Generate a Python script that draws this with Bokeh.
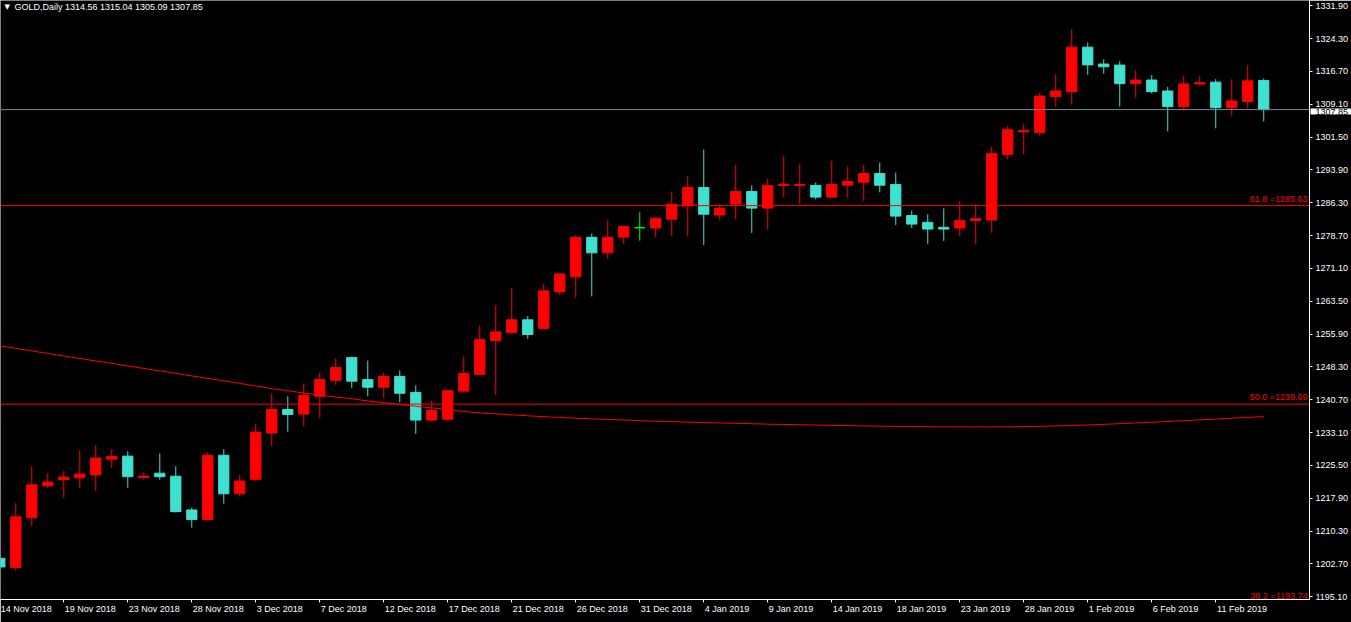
from bokeh.plotting import figure
from bokeh.models import (Range1d, FixedTicker, LinearAxis, Label, ColumnDataSource,
                          PrintfTickFormatter, NoOverlap)
from bokeh.embed import file_html
from bokeh.resources import INLINE

symbol = "GOLD,Daily"

opens = [1204.0, 1201.9, 1213.4, 1220.8, 1222.2, 1222.65, 1223.3, 1226.95, 1227.65, 1222.7,
         1223.7, 1223.0, 1215.2, 1213.0, 1227.85, 1218.95, 1222.3, 1233.0, 1238.45, 1237.4,
         1241.5, 1245.2, 1250.45, 1245.35, 1243.6, 1246.1, 1242.4, 1236.0, 1236.2, 1242.7,
         1246.6, 1254.4, 1256.3, 1259.2, 1257.2, 1265.65, 1269.15, 1278.3, 1274.7, 1278.35,
         1280.5, 1280.45, 1282.5, 1285.6, 1289.8, 1283.45, 1286.0, 1288.9, 1285.05, 1290.3,
         1290.3, 1290.3, 1287.6, 1290.35, 1291.05, 1293.05, 1290.5, 1283.35, 1281.75, 1280.6,
         1280.45, 1282.2, 1282.3, 1297.5, 1302.7, 1302.55, 1310.85, 1312.0, 1322.3, 1318.4,
         1318.15, 1313.85, 1314.7, 1312.15, 1308.55, 1313.8, 1314.2, 1308.3, 1309.7, 1314.56]
highs = [1204.5, 1216.8, 1225.3, 1223.7, 1224.2, 1229.0, 1230.2, 1229.25, 1228.8, 1223.95,
         1228.3, 1225.3, 1215.7, 1228.55, 1229.25, 1223.3, 1235.2, 1242.2, 1241.5, 1244.5,
         1247.0, 1250.2, 1250.7, 1249.75, 1247.0, 1247.5, 1244.0, 1240.5, 1243.0, 1250.7,
         1257.8, 1262.6, 1266.6, 1260.1, 1267.5, 1270.0, 1278.75, 1279.2, 1282.2, 1281.1,
         1284.1, 1282.9, 1288.9, 1292.4, 1298.6, 1286.1, 1295.1, 1290.3, 1291.9, 1297.2,
         1295.35, 1291.0, 1296.0, 1294.7, 1295.1, 1295.6, 1293.3, 1284.5, 1283.6, 1285.0,
         1286.6, 1285.9, 1299.3, 1304.1, 1304.55, 1311.7, 1316.1, 1326.4, 1323.4, 1319.5,
         1319.05, 1317.0, 1315.85, 1313.1, 1315.6, 1315.6, 1314.9, 1314.9, 1318.15, 1315.04]
lows = [1201.5, 1201.2, 1211.4, 1220.3, 1218.0, 1220.3, 1219.6, 1224.9, 1220.3, 1222.2,
        1222.2, 1214.6, 1211.1, 1212.75, 1216.65, 1218.3, 1221.9, 1230.0, 1233.3, 1234.6,
        1236.5, 1244.1, 1243.4, 1241.5, 1241.1, 1240.1, 1232.8, 1235.75, 1235.8, 1242.2,
        1246.3, 1241.9, 1255.8, 1254.8, 1257.0, 1264.95, 1264.3, 1264.6, 1273.3, 1276.75,
        1277.5, 1278.2, 1278.6, 1278.6, 1276.5, 1282.3, 1282.5, 1279.3, 1280.0, 1287.6,
        1286.0, 1287.1, 1287.5, 1287.35, 1286.65, 1288.7, 1281.15, 1280.45, 1276.75, 1277.45,
        1278.6, 1276.75, 1279.3, 1296.3, 1297.5, 1301.85, 1308.55, 1309.0, 1315.9, 1316.15,
        1308.55, 1310.6, 1311.55, 1302.8, 1307.6, 1313.4, 1303.5, 1306.5, 1308.1, 1305.09]
closes = [1202.0, 1213.6, 1221.0, 1221.65, 1222.8, 1223.5, 1227.2, 1227.6, 1222.9, 1223.0,
          1222.9, 1214.8, 1213.0, 1227.85, 1218.95, 1221.9, 1233.2, 1238.45, 1237.3, 1241.7,
          1245.4, 1248.15, 1245.0, 1243.6, 1246.1, 1242.2, 1236.0, 1238.2, 1242.8, 1246.75,
          1254.6, 1256.4, 1259.2, 1255.8, 1265.9, 1269.8, 1278.3, 1274.7, 1278.3, 1280.8,
          1280.5, 1282.7, 1285.9, 1289.8, 1283.65, 1285.0, 1288.9, 1285.05, 1290.3, 1290.6,
          1290.5, 1287.6, 1290.5, 1291.2, 1293.05, 1290.35, 1283.2, 1281.35, 1280.2, 1280.2,
          1282.2, 1282.6, 1297.65, 1303.2, 1303.0, 1311.0, 1312.15, 1322.3, 1318.2, 1317.75,
          1313.85, 1314.7, 1312.0, 1308.55, 1313.8, 1314.1, 1308.3, 1309.85, 1314.5, 1307.85]
ma_values = [1253.18, 1252.60, 1252.01, 1251.41, 1250.83, 1250.25, 1249.68, 1249.10, 1248.53, 1247.95,
             1247.38, 1246.80, 1246.22, 1245.65, 1245.07, 1244.50, 1243.87, 1243.30, 1242.77, 1242.26,
             1241.76, 1241.32, 1240.93, 1240.42, 1240.01, 1239.61, 1239.20, 1238.81, 1238.42, 1237.96,
             1237.66, 1237.43, 1237.22, 1236.99, 1236.78, 1236.60, 1236.44, 1236.27, 1236.14, 1236.00,
             1235.86, 1235.74, 1235.63, 1235.52, 1235.42, 1235.33, 1235.24, 1235.15, 1235.05, 1234.98,
             1234.92, 1234.85, 1234.78, 1234.71, 1234.64, 1234.59, 1234.55, 1234.50, 1234.46, 1234.43,
             1234.41, 1234.41, 1234.41, 1234.43, 1234.48, 1234.55, 1234.64, 1234.75, 1234.87, 1235.01,
             1235.17, 1235.33, 1235.49, 1235.68, 1235.86, 1236.04, 1236.23, 1236.44, 1236.62, 1236.80]

date_tick_bars = [0, 4, 8, 12, 16, 20, 24, 28, 32, 36, 40, 44, 48, 52, 56, 60, 64, 68, 72, 76]
date_tick_labels = ["14 Nov 2018", "19 Nov 2018", "23 Nov 2018", "28 Nov 2018", "3 Dec 2018",
                    "7 Dec 2018", "12 Dec 2018", "17 Dec 2018", "21 Dec 2018", "26 Dec 2018",
                    "31 Dec 2018", "4 Jan 2019", "9 Jan 2019", "14 Jan 2019", "18 Jan 2019",
                    "23 Jan 2019", "28 Jan 2019", "1 Feb 2019", "6 Feb 2019", "11 Feb 2019"]
price_ticks = [1195.10, 1202.70, 1210.30, 1217.90, 1225.50, 1233.10, 1240.70, 1248.30, 1255.90,
               1263.50, 1271.10, 1278.70, 1286.30, 1293.90, 1301.50, 1309.10, 1316.70, 1324.30,
               1331.90]
fib_levels = [61.8, 50.0, 38.2]
fib_prices = [1285.63, 1239.69, 1193.74]

# ---- style / layout ----
UP = "#FF0000"
DOWN = "#40E0D0"
DOJI = "#00FF00"
BID = "#778899"
FONT = "Liberation Sans"
FS = "9px"
W, H = 1351, 622
RIGHT, BOTTOM = 42, 22
FW = W - RIGHT
X0, X1 = 0.044, 81.86
Y0, Y1 = 1194.47, 1333.1

n = len(opens)
idx = list(range(n))
colors = [UP if c > o else (DOWN if c < o else DOJI) for o, c in zip(opens, closes)]
src = ColumnDataSource(dict(
    x=idx, h=highs, l=lows,
    top=[max(o, c) for o, c in zip(opens, closes)],
    bottom=[min(o, c) for o, c in zip(opens, closes)],
    color=colors))

p = figure(width=W, height=H, output_backend="svg", toolbar_location=None,
           x_range=Range1d(X0, X1), y_range=Range1d(Y0, Y1),
           y_axis_location="right",
           background_fill_color="black", border_fill_color="black",
           min_border_left=0, min_border_top=0,
           min_border_right=RIGHT, min_border_bottom=BOTTOM)
p.outline_line_color = None
p.xgrid.visible = False
p.ygrid.visible = False

p.segment(x0="x", y0="l", x1="x", y1="h", line_color="color", line_width=1, source=src)
p.vbar(x="x", width=0.64, top="top", bottom="bottom", fill_color="color",
       line_color="color", line_width=1, source=src)
p.line(idx, ma_values, line_color=UP, line_width=1)
p.segment(x0=[X0] * len(fib_prices), x1=[X1] * len(fib_prices), y0=fib_prices, y1=fib_prices,
          line_color=UP, line_width=1)
p.segment(x0=[X0], x1=[X1], y0=[closes[-1]], y1=[closes[-1]], line_color=BID, line_width=1)

# right price axis
ya = p.yaxis[0]
ya.ticker = FixedTicker(ticks=price_ticks, minor_ticks=[])
ya.formatter = PrintfTickFormatter(format="%.2f")
ya.axis_line_color = "white"
ya.major_tick_line_color = "white"
ya.major_tick_out = 3
ya.major_tick_in = 0
ya.minor_tick_line_color = None
ya.major_label_standoff = 3
ya.major_label_text_color = "white"
ya.major_label_text_font = FONT
ya.major_label_text_font_size = FS

# bottom axis: tick marks at bar centres (its own labels suppressed)
xa = p.xaxis[0]
xa.ticker = FixedTicker(ticks=date_tick_bars, minor_ticks=[])
xa.axis_line_color = "white"
xa.major_tick_line_color = "white"
xa.major_tick_out = 3
xa.major_tick_in = 0
xa.minor_tick_line_color = None
xa.major_label_text_font_size = "0px"
xa.major_label_standoff = 0
xa.major_label_overrides = {b: "" for b in date_tick_bars}
xa.major_label_policy = NoOverlap(min_distance=100000)

# bottom axis 2: labels that start at the tick (MetaTrader style)
EM = {' ': .278, 'N': .722, 'o': .556, 'v': .5, 'D': .722, 'e': .556, 'c': .5,
      'J': .5, 'a': .556, 'n': .556, 'F': .611, 'b': .556}
px_per_bar = FW / (X1 - X0)
fs_px = 9.0
label_pos = []
overrides = {}
for b, lab in zip(date_tick_bars, date_tick_labels):
    wpx = sum(EM.get(ch, .556) for ch in lab) * fs_px
    pos = round(b + (1 + wpx / 2) / px_per_bar, 4)
    label_pos.append(pos)
    overrides[pos] = lab
xb = LinearAxis(ticker=FixedTicker(ticks=label_pos, minor_ticks=[]),
                major_label_overrides=overrides)
xb.axis_line_color = None
xb.major_tick_line_color = None
xb.major_tick_out = 0
xb.major_tick_in = 0
xb.minor_tick_line_color = None
xb.major_label_standoff = 1
xb.major_label_text_color = "white"
xb.major_label_text_font = FONT
xb.major_label_text_font_size = FS
p.add_layout(xb, "below")

# fibonacci labels (right aligned at the frame edge)
for lvl, pr in zip(fib_levels, fib_prices):
    p.add_layout(Label(x=X1, y=pr, x_offset=-2, y_offset=2,
                       text=f"{lvl:.1f} ={pr:.2f}", text_align="right",
                       text_baseline="bottom", text_color=UP,
                       text_font=FONT, text_font_size=FS))

# current price box over the price axis: placed in a side panel so that it is
# not clipped to the frame; its position still comes from the data scales.
box = Label(x=X1, y=closes[-1], x_offset=1, y_offset=-2, text=f"{closes[-1]:.2f}",
            text_align="left", text_baseline="middle", text_color="black",
            text_font=FONT, text_font_size=FS, background_fill_color="white",
            padding=(5, 0))
p.add_layout(box, "below")

# title (top-left inside the chart)
p.add_layout(Label(x=4, y=Y1, x_units="screen", y_units="data", y_offset=-6, text="\u25BC",
                   text_baseline="middle", text_color="white", text_font="DejaVu Sans",
                   text_font_size="7px"))
title = f"{symbol}  {opens[-1]:.2f} {highs[-1]:.2f} {lows[-1]:.2f} {closes[-1]:.2f}"
p.add_layout(Label(x=14, y=Y1, x_units="screen", y_units="data", y_offset=-6, text=title,
                   text_baseline="middle", text_color="white", text_font=FONT,
                   text_font_size=FS))

open("out.html", "w").write(file_html(p, INLINE))
